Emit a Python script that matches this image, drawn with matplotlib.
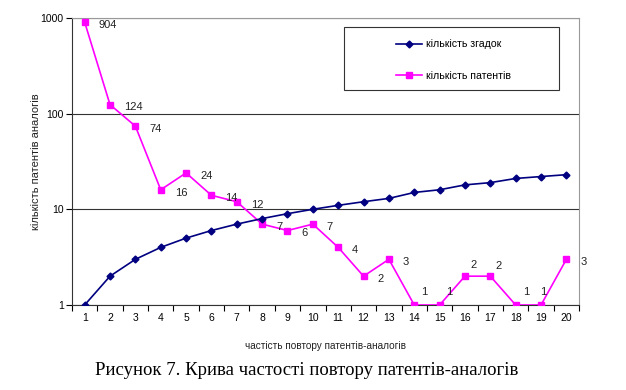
import matplotlib.pyplot as plt
import numpy as np
from matplotlib.patches import Rectangle
from matplotlib.lines import Line2D

# data
repeat = list(range(1, 21))
mentions = [1, 2, 3, 4, 5, 6, 7, 8, 9, 10, 11, 12, 13, 15, 16, 18, 19, 21, 22, 23]
patents = [904, 124, 74, 16, 24, 14, 12, 7, 6, 7, 4, 2, 3, 1, 1, 2, 2, 1, 1, 3]
name_mentions = 'кількість згадок'
name_patents = 'кількість патентів'
ylabel = 'кількість патентів аналогів'
xlabel = 'частість повтору патентів-аналогів'
caption = 'Рисунок 7. Крива частості повтору патентів-аналогів'

# label offsets in points (dx, dy)
lbl_off = [(10, -2)] * 20
for i in (13, 14, 17):
    lbl_off[i] = (5, 9)
lbl_off[18] = (-1, 9)
lbl_off[15] = (4, 8)
lbl_off[16] = (4, 7)

plt.rcParams['font.family'] = ['Liberation Sans', 'DejaVu Sans']

fig = plt.figure(figsize=(6.26, 3.9), dpi=100)
ax = fig.add_axes([0.115, 0.218, 0.81, 0.736])

navy = '#000080'
mag = '#ff00ff'
ax.plot(repeat, mentions, color=navy, lw=1.2, marker='D', ms=3.5, zorder=4)
ax.plot(repeat, patents, color=mag, lw=1.2, marker='s', ms=4.5, zorder=3)

for x, v, (dx, dy) in zip(repeat, patents, lbl_off):
    ax.annotate(str(v), (x, v), xytext=(dx, dy), textcoords='offset points',
                ha='left', va='center', fontsize=8, color='#222222')

ax.set_yscale('log')
ax.set_ylim(1, 1000)
ax.set_xlim(0.5, 20.5)
ax.set_yticks([1, 10, 100, 1000])
ax.set_yticklabels(['1', '10', '100', '1000'])
ax.yaxis.set_minor_locator(plt.NullLocator())
ax.set_xticks(repeat)
ax.set_xticklabels([str(r) for r in repeat])
ax.set_xticks(np.arange(0.5, 21, 1), minor=True)
ax.tick_params(axis='x', which='major', length=0, labelsize=7.5, pad=6)
ax.tick_params(axis='x', which='minor', length=4, width=0.8, direction='out')
ax.tick_params(axis='y', which='major', length=4, width=0.8, labelsize=7.5, pad=2)

ax.grid(axis='y', which='major', color='#333333', lw=0.8)
ax.set_axisbelow(True)
ax.spines['left'].set_color('#333333')
ax.spines['bottom'].set_color('#333333')
ax.spines['right'].set_color('#999999')
ax.spines['top'].set_color('#999999')

ax.set_ylabel(ylabel, fontsize=8, labelpad=0, color='#222222')
ax.set_xlabel(xlabel, fontsize=7.2, labelpad=13, color='#222222')

# legend box
ax.add_patch(Rectangle((0.537, 0.75), 0.424, 0.22, transform=ax.transAxes,
                       fill=True, facecolor='white', edgecolor='#333333', lw=0.8, zorder=5))
handles = [Line2D([], [], color=navy, lw=1.2, marker='D', ms=3.5),
           Line2D([], [], color=mag, lw=1.2, marker='s', ms=4.5)]
ax.legend(handles, [name_mentions, name_patents], loc='center',
          bbox_to_anchor=(0.752, 0.853), frameon=False, fontsize=7.6,
          labelspacing=2.05, handlelength=2.5, handletextpad=0.3)
ax.get_legend().set_zorder(6)

fig.text(0.49, 0.05, caption, ha='center', va='center', fontsize=13.5,
         family='Liberation Serif')

fig.savefig('out.png', dpi=100)
